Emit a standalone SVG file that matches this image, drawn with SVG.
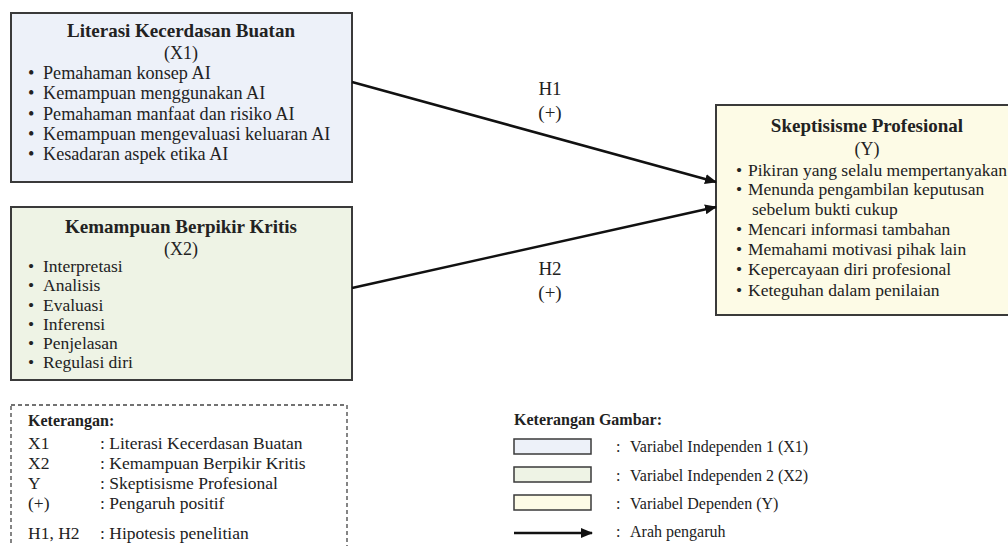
<svg xmlns="http://www.w3.org/2000/svg" width="1008" height="546" viewBox="0 0 1008 546">
<defs>
<marker id="ah" viewBox="0 0 12 10" refX="11" refY="5" markerWidth="12" markerHeight="10" markerUnits="userSpaceOnUse" orient="auto">
<path d="M0,0 L12,5 L0,10 Z" fill="#111"/>
</marker>
<style>
text{font-family:"Liberation Serif","Times New Roman",serif;fill:#222;}
.box{stroke:#3a3a3a;stroke-width:2;}
.x1{fill:#edf1f9;}
.x2{fill:#eef3e5;}
.y{fill:#fdfbe6;}
.ttl{font-size:19px;font-weight:bold;text-anchor:middle;}
.sub{font-size:18px;text-anchor:middle;}
.it{font-size:17.5px;}
.it1{font-size:18.2px;}
.lbl{font-size:19px;text-anchor:middle;}
.lg{font-size:17.5px;}
.lg2{font-size:16px;}
.bold{font-weight:bold;}
.conn{stroke:#111;stroke-width:2.5;fill:none;}
.sw{stroke:#3a3a3a;stroke-width:1.5;}
</style>
</defs>
<rect width="1008" height="546" fill="#ffffff"/>

<g id="node-x1">
<rect class="box x1" x="11" y="13" width="341" height="169"/>
<text class="ttl" x="181" y="37">Literasi Kecerdasan Buatan</text>
<text class="sub" x="181" y="59">(X1)</text>
<text class="it1"><tspan x="28" y="79">•</tspan><tspan x="43" y="79">Pemahaman konsep AI</tspan></text>
<text class="it1"><tspan x="28" y="99">•</tspan><tspan x="43" y="99">Kemampuan menggunakan AI</tspan></text>
<text class="it1"><tspan x="28" y="119.5">•</tspan><tspan x="43" y="119.5">Pemahaman manfaat dan risiko AI</tspan></text>
<text class="it1"><tspan x="28" y="139.5">•</tspan><tspan x="43" y="139.5">Kemampuan mengevaluasi keluaran AI</tspan></text>
<text class="it1"><tspan x="28" y="159.5">•</tspan><tspan x="43" y="159.5">Kesadaran aspek etika AI</tspan></text>
</g>

<g id="node-x2">
<rect class="box x2" x="11" y="207" width="341" height="173"/>
<text class="ttl" x="181" y="232.5">Kemampuan Berpikir Kritis</text>
<text class="sub" x="181" y="255">(X2)</text>
<text class="it"><tspan x="28" y="272">•</tspan><tspan x="43" y="272">Interpretasi</tspan></text>
<text class="it"><tspan x="28" y="291">•</tspan><tspan x="43" y="291">Analisis</tspan></text>
<text class="it"><tspan x="28" y="310.5">•</tspan><tspan x="43" y="310.5">Evaluasi</tspan></text>
<text class="it"><tspan x="28" y="329.5">•</tspan><tspan x="43" y="329.5">Inferensi</tspan></text>
<text class="it"><tspan x="28" y="348.5">•</tspan><tspan x="43" y="348.5">Penjelasan</tspan></text>
<text class="it"><tspan x="28" y="368">•</tspan><tspan x="43" y="368">Regulasi diri</tspan></text>
</g>

<g id="node-y">
<rect class="box y" x="716" y="105" width="300" height="210"/>
<text class="ttl" x="867" y="132">Skeptisisme Profesional</text>
<text class="sub" x="867" y="155">(Y)</text>
<text class="it"><tspan x="736" y="175.5">•</tspan><tspan x="748" y="175.5">Pikiran yang selalu mempertanyakan</tspan></text>
<text class="it"><tspan x="736" y="195">•</tspan><tspan x="748" y="195">Menunda pengambilan keputusan</tspan></text>
<text class="it"><tspan x="752" y="214.5">sebelum bukti cukup</tspan></text>
<text class="it"><tspan x="736" y="234.5">•</tspan><tspan x="748" y="234.5">Mencari informasi tambahan</tspan></text>
<text class="it"><tspan x="736" y="255">•</tspan><tspan x="748" y="255">Memahami motivasi pihak lain</tspan></text>
<text class="it"><tspan x="736" y="275">•</tspan><tspan x="748" y="275">Kepercayaan diri profesional</tspan></text>
<text class="it"><tspan x="736" y="295.5">•</tspan><tspan x="748" y="295.5">Keteguhan dalam penilaian</tspan></text>
</g>

<g id="connectors">
<line class="conn" x1="352" y1="82" x2="716" y2="182" marker-end="url(#ah)"/>
<line class="conn" x1="352" y1="288" x2="716" y2="207" marker-end="url(#ah)"/>
<text class="lbl" x="550" y="95">H1</text>
<text class="lbl" x="550" y="119">(+)</text>
<text class="lbl" x="550" y="275">H2</text>
<text class="lbl" x="550" y="299">(+)</text>
</g>

<g id="legend-notes">
<rect x="11" y="405" width="336" height="160" fill="none" stroke="#444" stroke-width="1.3" stroke-dasharray="4,3"/>
<text class="lg2 bold" x="28" y="426">Keterangan:</text>
<text class="lg"><tspan x="28" y="449">X1</tspan><tspan x="100" y="449">: Literasi Kecerdasan Buatan</tspan></text>
<text class="lg"><tspan x="28" y="469">X2</tspan><tspan x="100" y="469">: Kemampuan Berpikir Kritis</tspan></text>
<text class="lg"><tspan x="28" y="489">Y</tspan><tspan x="100" y="489">: Skeptisisme Profesional</tspan></text>
<text class="lg"><tspan x="28" y="509">(+)</tspan><tspan x="100" y="509">: Pengaruh positif</tspan></text>
<text class="lg"><tspan x="28" y="539">H1, H2</tspan><tspan x="100" y="539">: Hipotesis penelitian</tspan></text>
</g>

<g id="legend-figure">
<text class="lg2 bold" x="514" y="425">Keterangan Gambar:</text>
<rect class="sw x1" x="514" y="439" width="77" height="15"/>
<rect class="sw x2" x="514" y="467" width="77" height="15"/>
<rect class="sw y" x="514" y="495" width="77" height="15"/>
<line class="conn" x1="514" y1="533" x2="592" y2="533" marker-end="url(#ah)"/>
<text class="lg2"><tspan x="616" y="452">:</tspan><tspan x="630" y="452">Variabel Independen 1 (X1)</tspan></text>
<text class="lg2"><tspan x="616" y="481">:</tspan><tspan x="630" y="481">Variabel Independen 2 (X2)</tspan></text>
<text class="lg2"><tspan x="616" y="509">:</tspan><tspan x="630" y="509">Variabel Dependen (Y)</tspan></text>
<text class="lg2"><tspan x="616" y="537">:</tspan><tspan x="630" y="537">Arah pengaruh</tspan></text>
</g>
</svg>
